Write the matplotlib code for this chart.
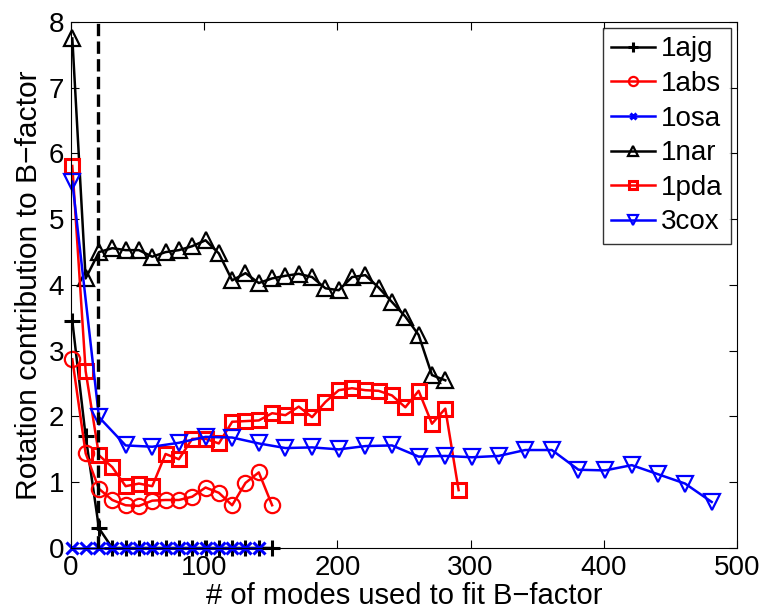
import matplotlib
matplotlib.use('Agg')
import matplotlib.pyplot as plt

plt.rcParams['font.family'] = ['Liberation Sans', 'DejaVu Sans']

# modes used to fit B-factor (x positions)
modes_10 = [1, 11, 21, 31, 41, 51, 61, 71, 81, 91, 101, 111, 121, 131, 141,
            151, 161, 171, 181, 191, 201, 211, 221, 231, 241, 251, 261, 271,
            281, 291]
modes_20 = [1, 21, 41, 61, 81, 101, 121, 141, 161, 181, 201, 221, 241, 261,
            281, 301, 321, 341, 361, 381, 401, 421, 441, 461, 481]

y_1ajg = [3.45, 1.70, 0.30, 0, 0, 0, 0, 0, 0, 0, 0, 0, 0, 0, 0, 0]
y_1abs = [2.87, 1.44, 0.90, 0.73, 0.65, 0.64, 0.72, 0.73, 0.73, 0.78, 0.92,
          0.84, 0.65, 0.99, 1.15, 0.65]
y_1osa = [0, 0, 0, 0, 0, 0, 0, 0, 0, 0, 0, 0, 0, 0, 0]
y_1nar = [7.75, 4.10, 4.50, 4.56, 4.53, 4.53, 4.43, 4.50, 4.53, 4.59, 4.68,
          4.48, 4.07, 4.18, 4.03, 4.10, 4.14, 4.17, 4.12, 3.95, 3.92, 4.12,
          4.15, 3.96, 3.74, 3.52, 3.24, 2.63, 2.55]
y_1pda = [5.81, 2.69, 1.41, 1.23, 0.94, 0.98, 0.94, 1.43, 1.35, 1.66, 1.66,
          1.59, 1.92, 1.93, 1.94, 2.05, 2.02, 2.15, 1.99, 2.22, 2.40, 2.43,
          2.40, 2.39, 2.32, 2.14, 2.39, 1.89, 2.12, 0.88]
y_3cox = [5.57, 1.99, 1.56, 1.54, 1.60, 1.69, 1.68, 1.59, 1.52, 1.53, 1.50,
          1.55, 1.56, 1.39, 1.40, 1.38, 1.40, 1.49, 1.49, 1.19, 1.18, 1.26,
          1.12, 0.98, 0.70]

cutoff = 20

fig = plt.figure(figsize=(7.65, 6.14), dpi=100)
ax = fig.add_axes([0.0928, 0.1075, 0.8706, 0.8567])

lw = 1.8
mew = 1.6
ax.plot(modes_10[:len(y_1ajg)], y_1ajg, '-+', color='black', lw=lw, ms=12,
        mew=2.2, label='1ajg', clip_on=False)
ax.plot(modes_10[:len(y_1abs)], y_1abs, '-o', color='red', lw=lw, ms=11,
        mew=mew, mfc='none', label='1abs', clip_on=False)
ax.plot(modes_10[:len(y_1osa)], y_1osa, '-x', color='blue', lw=lw, ms=8,
        mew=2.2, label='1osa', clip_on=False)
ax.plot(modes_10[:len(y_1nar)], y_1nar, '-^', color='black', lw=lw, ms=12,
        mew=mew, mfc='none', label='1nar', clip_on=False)
ax.plot(modes_10[:len(y_1pda)], y_1pda, '-s', color='red', lw=lw, ms=10,
        mew=mew + 0.6, mfc='none', label='1pda', clip_on=False)
ax.plot(modes_20, y_3cox, '-v', color='blue', lw=lw, ms=12,
        mew=mew, mfc='none', label='3cox', clip_on=False)

ax.plot([cutoff, cutoff], [0, 8], '--', color='black', lw=2.4)

ax.set_xlim(0, 500)
ax.set_ylim(0, 8)
ax.set_xticks([0, 100, 200, 300, 400, 500])
ax.set_yticks([0, 1, 2, 3, 4, 5, 6, 7, 8])
ax.tick_params(direction='in', top=True, right=True, labelsize=20, length=6,
               pad=5)
ax.set_xlabel('# of modes used to fit B\u2212factor', fontsize=21, labelpad=1)
ax.set_ylabel('Rotation contribution to B\u2212factor', fontsize=21.6, labelpad=4)
for s in ax.spines.values():
    s.set_linewidth(0.8)

leg = ax.legend(loc='upper right', fontsize=20, frameon=True, fancybox=False,
                edgecolor='black', handlelength=1.6, handletextpad=0.2,
                borderaxespad=0.22, labelspacing=0.31, markerscale=0.6,
                borderpad=0.3)
leg.get_frame().set_linewidth(1.0)

fig.savefig('out.png', dpi=100)
